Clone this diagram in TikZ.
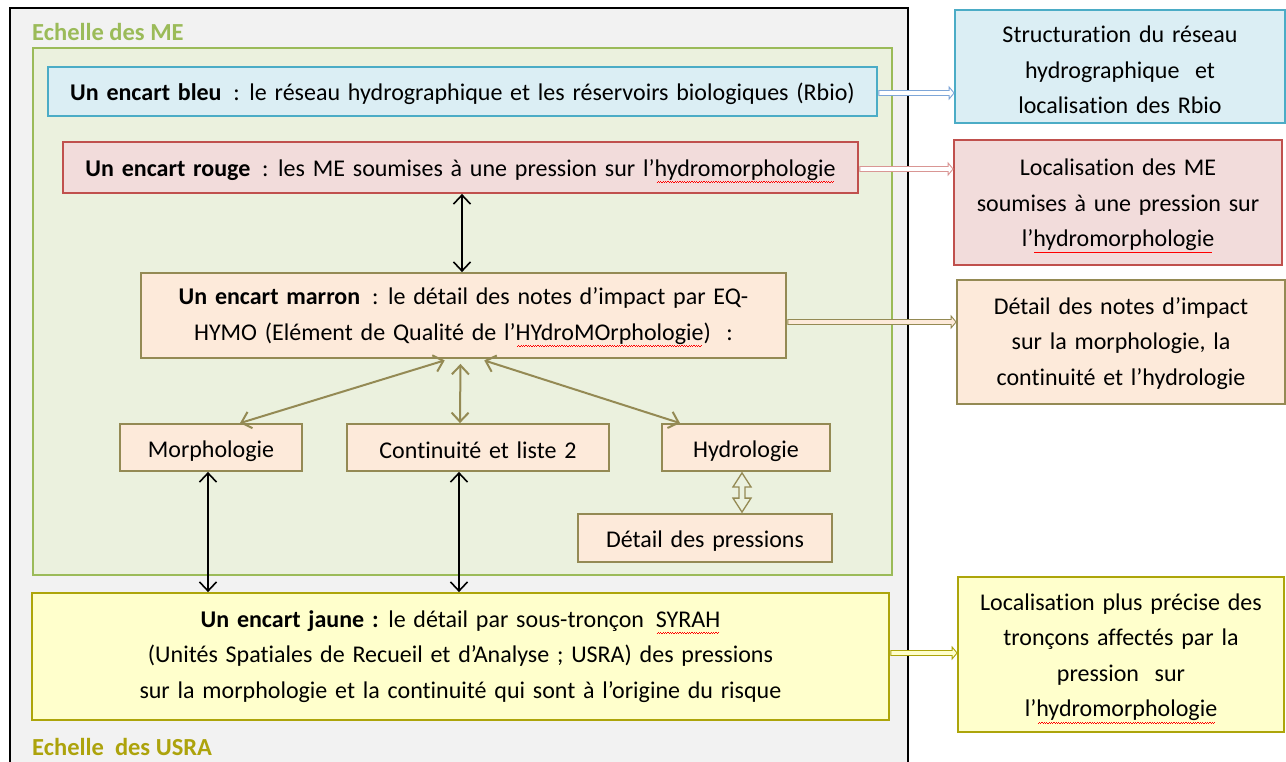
\documentclass[tikz,border=0pt]{standalone}
\usepackage{fontspec}
\setmainfont{Carlito}[Ligatures=NoCommon]
\usetikzlibrary{arrows.meta,calc}
\newsavebox\spellbox
\newcommand\spellerr[1]{\sbox\spellbox{#1}\rlap{\usebox\spellbox}{\color{red}\leaders\hbox{\raisebox{-6.4pt}{\rule{1.2pt}{0.6pt}}\raisebox{-5.5pt}{\rule{1.2pt}{0.6pt}}}\hskip\wd\spellbox}}
\protected\def\widespace{\spaceskip=7.8pt plus 2pt minus 1pt\relax}
% hollow block arrow from coordinate #1 to coordinate #2 (horizontal)
\newcommand\hollowarrow[4]{\draw[line width=0.9pt, draw=#3, fill=#4, line join=miter]
  ($(#1)+(0,-2.5)$) -- ($(#2)+(-5,-2.5)$) -- ($(#2)+(-5,-6)$) -- (#2) -- ($(#2)+(-5,6)$) -- ($(#2)+(-5,2.5)$) -- ($(#1)+(0,2.5)$) -- cycle;}
\definecolor{outerfill}{HTML}{F2F2F2}
\definecolor{greenline}{HTML}{9BBB59}
\definecolor{greenfill}{HTML}{EBF1DE}
\definecolor{blueline}{HTML}{4BACC6}
\definecolor{bluefill}{HTML}{DBEEF4}
\definecolor{bluearrow}{HTML}{7EA6D8}
\definecolor{redline}{HTML}{C0504D}
\definecolor{redfill}{HTML}{F2DCDB}
\definecolor{redarrow}{HTML}{D99694}
\definecolor{brownline}{HTML}{948A54}
\definecolor{brownfill}{HTML}{FDEADA}
\definecolor{yelline}{HTML}{ADA50A}
\definecolor{yelfill}{HTML}{FFFFCC}
\definecolor{usra}{HTML}{ADA30C}
\tikzset{
  box/.style={draw, line width=1.8pt, inner sep=0pt},
  bluebox/.style={box, draw=blueline, fill=bluefill},
  redbox/.style={box, draw=redline, fill=redfill},
  brownbox/.style={box, draw=brownline, fill=brownfill},
  yelbox/.style={box, draw=yelline, fill=yelfill},
  txt/.style={inner sep=0pt, align=center, font=\fontsize{24}{35.5}\selectfont\widespace},
  blackarrow/.style={line width=1.6pt, black, {Straight Barb[length=9pt,width=17pt]}-{Straight Barb[length=9pt,width=17pt]}},
  olivearrow/.style={line width=2pt, brownline, {Straight Barb[length=9pt,width=17pt]}-{Straight Barb[length=9pt,width=17pt]}},
  title/.style={anchor=west, inner sep=0pt, font=\fontsize{24.5}{28}\selectfont\bfseries}
}
\begin{document}
\begin{tikzpicture}[x=1pt,y=-1pt]
\useasboundingbox (0,0) rectangle (1286,762);
\clip (0,0) rectangle (1286,762);
\fill[white] (0,0) rectangle (1286,762);
% outer frame
\draw[line width=1.8pt, fill=outerfill] (10,8) rectangle (908,790);
\node[title, text=greenline] (tme) at (32,32) {Echelle des ME};
\node[title, text=usra] (tusra) at (32,747) {Echelle\ \ des USRA};
% green frame
\draw[line width=2.6pt, draw=greenline, fill=greenfill] (33,48) rectangle (892,575);
% left boxes
\node[bluebox, minimum width=829pt, minimum height=49pt] (bleu) at (462.5,91.5) {};
\node[txt] (bleuT) at ([yshift=-2pt]bleu.center)
  {\textbf{Un encart bleu} \,: le réseau hydrographique et les réservoirs biologiques (Rbio)};
\node[redbox, minimum width=795pt, minimum height=51pt] (rouge) at (460.5,167.5) {};
\node[txt] (rougeT) at ([yshift=-3.5pt]rouge.center)
  {\textbf{Un encart rouge} \,: les ME soumises à une pression sur l’\spellerr{hydromorphologie}};
\node[brownbox, minimum width=645pt, minimum height=85pt] (marron) at (463.5,315.5) {};
\node[txt] (marronT) at ([yshift=-1.5pt]marron.center)
  {\textbf{Un encart marron} \,: le détail des notes d’impact par EQ-\\HYMO (Elément de Qualité de l’\spellerr{HYdroMOrphologie}) \ :};
\node[brownbox, minimum width=182pt, minimum height=47pt] (morph) at (211,447.5) {};
\node[txt] (morphT) at ([yshift=-3.5pt]morph.center) {Morphologie};
\node[brownbox, minimum width=262pt, minimum height=47pt] (cont) at (478,447.5) {};
\node[txt] (contT) at ([yshift=-2.5pt]cont.center) {Continuité et liste 2};
\node[brownbox, minimum width=168pt, minimum height=47pt] (hydro) at (746,447.5) {};
\node[txt] (hydroT) at ([yshift=-3.5pt]hydro.center) {Hydrologie};
\node[brownbox, minimum width=254pt, minimum height=48pt] (press) at (705,538) {};
\node[txt] (pressT) at ([yshift=-3.5pt]press.center) {Détail des pressions};
\node[yelbox, minimum width=857pt, minimum height=127pt] (jaune) at (460.5,656.5) {};
\node[txt] (jauneT) at (jaune.center)
  {\textbf{Un encart jaune :} le détail par sous-tronçon \,\spellerr{SYRAH}\\(Unités Spatiales de Recueil et d’Analyse ; USRA) des pressions\\sur la morphologie et la continuité qui sont à l’origine du risque};
% right boxes
\node[bluebox, minimum width=330pt, minimum height=113pt] (rbleu) at (1120,66.5) {};
\node[txt] (rbleuT) at ([yshift=-3.5pt]rbleu.center)
  {Structuration du réseau\\hydrographique \ et\\localisation des Rbio};
\node[redbox, minimum width=328pt, minimum height=125pt] (rrouge) at (1118,202.5) {};
\node[txt] (rrougeT) at ([yshift=-3.5pt]rrouge.center)
  {Localisation des ME\\soumises à une pression sur\\l’\spellerr{hydromorphologie}};
\node[brownbox, minimum width=328pt, minimum height=124pt] (rmarron) at (1121,342) {};
\node[txt] (rmarronT) at ([yshift=-1.5pt]rmarron.center)
  {Détail des notes d’impact\\sur la morphologie, la\\continuité et l’hydrologie};
\node[yelbox, minimum width=326pt, minimum height=155pt] (rjaune) at (1121,654.5) {};
\node[txt] (rjauneT) at ([yshift=-4pt]rjaune.center)
  {Localisation plus précise des\\tronçons affectés par la\\pression \ sur\\l’\spellerr{hydromorphologie}};
% hollow arrows to the right
\coordinate (a1s) at ([xshift=1pt,yshift=-1.5pt]bleu.east);
\coordinate (a1e) at (a1s -| rbleu.west);
\coordinate (a2s) at ([xshift=1pt,yshift=-1.5pt]rouge.east);
\coordinate (a2e) at (a2s -| rrouge.west);
\coordinate (a3s) at ([xshift=1pt,yshift=-6.5pt]marron.east);
\coordinate (a3e) at (a3s -| rmarron.west);
\coordinate (a4s) at ([xshift=1pt,yshift=3.5pt]jaune.east);
\coordinate (a4e) at (a4s -| rjaune.west);
\hollowarrow{a1s}{a1e}{bluearrow}{white}
\hollowarrow{a2s}{a2e}{redarrow}{white}
\hollowarrow{a3s}{a3e}{brownline}{brownfill}
\hollowarrow{a4s}{a4e}{yelline}{yelfill}
% black double arrows
\draw[blackarrow] ([xshift=1.5pt]rouge.south) -- ([xshift=1.5pt]rouge.south |- marron.north);
\draw[blackarrow] ([xshift=-3pt]morph.south) -- ([xshift=-3pt]morph.south |- jaune.north);
\draw[blackarrow] ([xshift=-19pt]cont.south) -- ([xshift=-19pt]cont.south |- jaune.north);
% olive arrows
\draw[olivearrow, shorten <=5pt] ([xshift=-14pt]marron.south) -- ([xshift=29pt]morph.north);
\draw[olivearrow, shorten <=5pt] ([xshift=-3pt]marron.south) -- ([xshift=-18pt]cont.north);
\draw[olivearrow, shorten <=5pt] ([xshift=16pt]marron.south) -- ([xshift=-66pt]hydro.north);
% hollow up-down arrow between Hydrologie and Detail des pressions
\coordinate (v1) at ([xshift=-4pt,yshift=-1pt]hydro.south);
\coordinate (v2) at ([xshift=-4pt,yshift=1pt]hydro.south |- press.north);
\draw[line width=1.3pt, draw=brownline, fill=greenfill, line join=miter]
  (v1) -- ($(v1)+(9,14)$) -- ($(v1)+(3,14)$) -- ($(v2)+(3,-14)$) -- ($(v2)+(9,-14)$) -- (v2)
  -- ($(v2)+(-9,-14)$) -- ($(v2)+(-3,-14)$) -- ($(v1)+(-3,14)$) -- ($(v1)+(-9,14)$) -- cycle;
\end{tikzpicture}
\end{document}
